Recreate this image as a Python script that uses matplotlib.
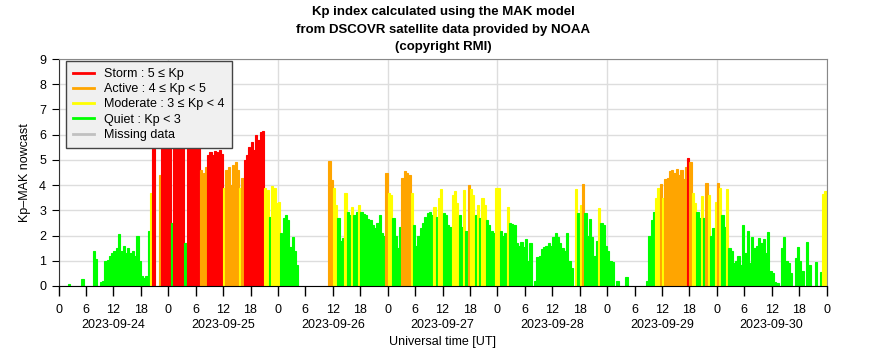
import numpy as np
import matplotlib
matplotlib.use("Agg")
from matplotlib import pyplot as plt
from matplotlib.lines import Line2D

plt.rcParams['font.family'] = ['Liberation Sans', 'DejaVu Sans']

N = np.nan
# Kp nowcast, one value per 30 minutes (48 per day), NaN = no data
kp_0924 = [N, N, N, N, 0.08, N, N, N, N, N, 0.28, N, N, N, N, 1.4, 1.07, N, 0.15, 0.2,
           1.0, 1.05, 1.2, 1.3, 1.4, 1.5, 2.05, 1.4, 1.6, 1.3, 1.5, 1.3, 1.4, 1.2, 2.0, 1.0,
           0.4, 0.3, 0.4, 2.2, 3.7, 6.3, N, N, 4.4, 7.0, 7.0, 7.0]
kp_0925 = [7.0, 2.5, 7.0, 7.0, 7.0, 7.0, 7.0, 1.7, 7.0, 7.0, 7.0, 7.0, 7.0, 7.0, 4.6, 4.5,
           4.7, 5.2, 5.3, 5.2, 5.35, 5.3, 5.4, 5.25, 3.9, 4.6, 4.7, 4.0, 4.8, 4.9, 4.6, 3.9,
           4.3, 5.0, 5.2, 5.5, 5.7, 5.4, 6.0, 5.8, 6.1, 6.15, 3.9, 3.8, 2.75, 3.95, 3.9, 3.3]
kp_0926 = [3.35, 2.1, 2.7, 2.8, 2.6, 1.55, 1.95, 1.4, 0.85, N, N, N, N, N, N, N,
           N, N, N, N, N, N, 4.95, 4.2, 3.9, 3.2, 2.7, 1.8, 1.9, 3.7, 2.95, 2.8,
           3.15, 2.8, 2.95, 3.2, 2.95, 2.85, 2.8, 2.65, 2.6, 2.4, 2.3, 2.5, 2.8, 2.1, 2.0, 4.5]
kp_0927 = [3.7, 3.6, 2.7, 2.0, 1.5, 2.35, 4.3, 4.55, 4.5, 4.4, 3.7, 2.4, 1.6, 2.0, 2.3, 2.5,
           2.75, 2.9, 2.95, 2.8, 3.15, 2.75, 3.5, 3.85, 2.9, 2.8, 2.4, 2.35, 3.6, 3.75, 3.3, 2.8,
           2.35, 3.8, 2.2, 4.0, 3.85, 3.6, 2.8, 3.2, 2.7, 3.5, 3.2, 2.6, 2.4, 2.2, 2.1, 3.9]
kp_0928 = [3.9, 2.2, 2.0, 2.1, 3.15, 2.5, 2.45, 2.4, 1.7, 1.6, 1.75, 1.55, 1.85, 1.0, 1.7, N,
           0.2, 1.15, 1.2, 1.45, 1.55, 1.6, 1.7, 1.6, 1.95, 2.1, 1.95, 1.7, 1.5, 1.4, 2.1, 1.0,
           0.7, N, 3.85, 2.9, 3.2, 4.05, 2.9, 2.0, 2.65, 1.95, 1.2, 1.8, 3.1, 2.5, 2.4, 1.6]
kp_0929 = [1.4, 1.0, 0.95, N, 0.18, N, N, N, 0.37, N, N, N, N, N, N, N,
           N, 0.2, 2.0, 2.6, 2.95, 3.5, 3.9, 4.05, 3.5, 4.25, 4.3, 4.55, 4.6, 4.5, 4.65, 4.4,
           4.6, 4.25, 4.7, 5.07, 4.9, 3.7, 3.3, 2.95, 2.7, 3.55, 2.7, 4.1, 3.6, 2.0, 2.3, 3.35]
kp_0930 = [4.07, 3.9, 2.8, 2.35, 3.85, 1.5, 1.4, 0.9, 1.0, 1.2, 0.85, 2.4, 1.3, 2.2, 0.9, 1.95,
           1.5, 1.6, 1.9, 1.7, 1.85, 1.3, 2.15, 0.6, 0.5, 0.15, 0.1, N, 1.5, 1.96, 1.0, 0.9,
           0.5, N, 1.1, 1.55, 1.0, 0.6, N, 1.75, 0.85, N, N, 0.95, N, 0.55, 3.65, 3.75]

days = ["2023-09-24", "2023-09-25", "2023-09-26", "2023-09-27",
        "2023-09-28", "2023-09-29", "2023-09-30"]
hour_labels = ["0", "6", "12", "18"]

kp = np.array(kp_0924 + kp_0925 + kp_0926 + kp_0927 + kp_0928 + kp_0929 + kp_0930)
hours = np.arange(len(kp)) * 0.5


def kp_color(v):
    if v >= 5:
        return "#ff0000"
    if v >= 4:
        return "#ffa500"
    if v >= 3:
        return "#ffff00"
    return "#00ff00"


ok = ~np.isnan(kp)
cols = [kp_color(v) for v in kp[ok]]

fig = plt.figure(figsize=(8.86, 3.6), dpi=100)
ax = fig.add_axes([58.5/886, 1-286/360, 768/886, 227/360])
ax.bar(hours[ok], kp[ok], width=0.5, align="edge", color=cols, edgecolor=cols,
       linewidth=0.8, zorder=2)

ax.set_xlim(0, 24*len(days))
ax.set_ylim(0, 9)
ax.set_yticks(range(10))
ax.set_xticks(np.arange(0, 24*len(days)+1, 24))
ax.set_xticklabels(["0"]*(len(days)+1))
minor = [d*24 + h for d in range(len(days)) for h in (6, 12, 18)]
ax.set_xticks(minor, minor=True)
ax.set_xticklabels(hour_labels[1:]*len(days), minor=True)
ax.tick_params(axis="x", which="both", direction="out", length=7, width=1,
               labelsize=9, pad=6)
ax.tick_params(axis="y", direction="out", length=5, labelsize=9, pad=4)

ax.grid(axis="y", color="#dddddd", linewidth=1, zorder=0)
ax.grid(axis="x", which="major", color="#dddddd", linewidth=1, zorder=0)
ax.set_axisbelow(True)

for s in ("top", "right"):
    ax.spines[s].set_color("#888888")
ax.spines["left"].set_color("#333333")

for i, d in enumerate(days):
    ax.text(i*24 + 12, -0.172, d, transform=ax.get_xaxis_transform(),
            ha="center", va="center", fontsize=9)

ax.set_xlabel("Universal time [UT]", fontsize=9, labelpad=14)
ax.set_ylabel("Kp–MAK nowcast", fontsize=9, labelpad=6)

fig.text(0.5, 1-12/360, "Kp index calculated using the MAK model",
         ha="center", va="center", fontsize=9.5, fontweight="bold")
fig.text(0.5, 1-30/360, "from DSCOVR satellite data provided by NOAA",
         ha="center", va="center", fontsize=9.5, fontweight="bold")
fig.text(0.5, 1-47/360, "(copyright RMI)",
         ha="center", va="center", fontsize=9.5, fontweight="bold")

handles = [Line2D([], [], color="#ff0000", lw=2),
           Line2D([], [], color="#ffa500", lw=2),
           Line2D([], [], color="#ffff00", lw=2),
           Line2D([], [], color="#00ff00", lw=2),
           Line2D([], [], color="#c0c0c0", lw=2)]
labels = ["Storm : 5 ≤ Kp", "Active : 4 ≤ Kp < 5", "Moderate : 3 ≤ Kp < 4",
          "Quiet : Kp < 3", "Missing data"]
leg = ax.legend(handles, labels, loc="upper left", bbox_to_anchor=(0.0098, 0.991),
                fontsize=9, frameon=True, fancybox=False, framealpha=1,
                handlelength=1.7, handletextpad=0.8, labelspacing=0.26,
                borderpad=0.55, borderaxespad=0)
leg.get_frame().set_facecolor("#f0f0f0")
leg.get_frame().set_edgecolor("#444444")
leg.get_frame().set_linewidth(1)
leg.set_zorder(5)

fig.savefig("out.png", dpi=100)
